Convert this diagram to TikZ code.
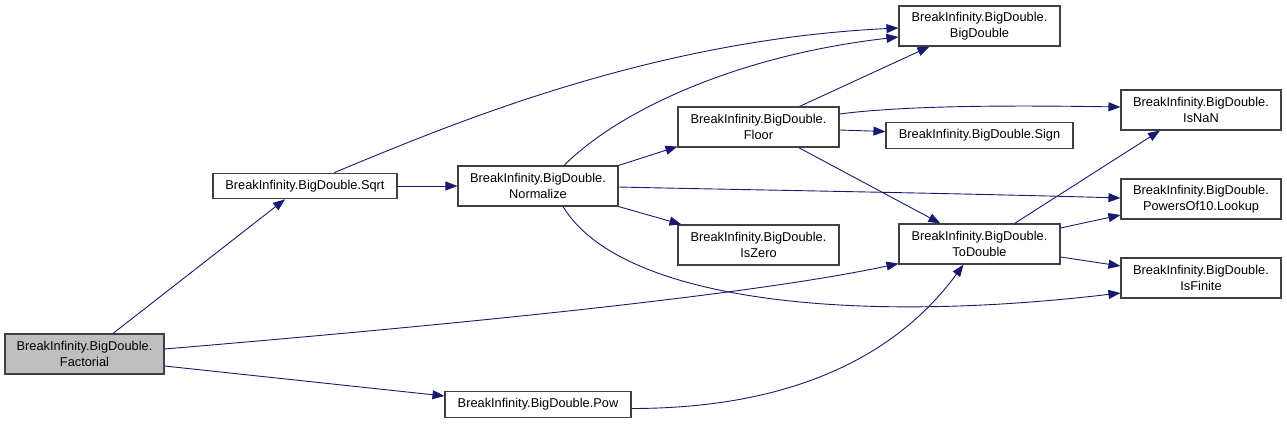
\documentclass[tikz,border=0pt]{standalone}
\usepackage{fontspec}
\setmainfont{Liberation Sans}
\usetikzlibrary{arrows.meta,calc}
\definecolor{edgecol}{HTML}{191970}
\definecolor{boxline}{HTML}{404040}
\definecolor{rootfill}{HTML}{BFBFBF}
\begin{document}
\begin{tikzpicture}[x=1pt,y=-1pt,
  box/.style={draw=boxline, line width=1.1pt, fill=white, inner sep=0pt, align=center,
    font=\fontsize{12.8}{15.5}\selectfont, minimum width=160pt, minimum height=40pt},
  flat/.style={minimum height=25.5pt},
  e/.style={draw=edgecol, line width=0.9pt, -{Triangle[length=12pt,width=9pt]}, fill=none}
]
\useasboundingbox (0,0) rectangle (1287,423);

\node[box, fill=rootfill, minimum width=159pt] (fact) at (84.5,354) {BreakInfinity.BigDouble.\\Factorial};
\node[box, flat, minimum width=184pt] (sqrt) at (305,186) {BreakInfinity.BigDouble.Sqrt};
\node[box] (norm) at (538,186) {BreakInfinity.BigDouble.\\Normalize};
\node[box, minimum width=161pt] (floor) at (758.5,127) {BreakInfinity.BigDouble.\\Floor};
\node[box, minimum width=161pt] (iszero) at (758.5,245) {BreakInfinity.BigDouble.\\IsZero};
\node[box, minimum width=161pt] (bigd) at (979.5,26) {BreakInfinity.BigDouble.\\BigDouble};
\node[box] (isnan) at (1201,110) {BreakInfinity.BigDouble.\\IsNaN};
\node[box, flat, minimum width=187pt] (sign) at (979.5,135.5) {BreakInfinity.BigDouble.Sign};
\node[box] (lookup) at (1201,199) {BreakInfinity.BigDouble.\\PowersOf10.Lookup};
\node[box, minimum width=161pt] (todouble) at (979.5,244) {BreakInfinity.BigDouble.\\ToDouble};
\node[box] (isfinite) at (1201,278) {BreakInfinity.BigDouble.\\IsFinite};
\node[box, flat, minimum width=186pt] (pow) at (538,404.5) {BreakInfinity.BigDouble.Pow};

% Factorial
\draw[e] ($(fact.north)+(28.5,0)$) -- ($(sqrt.south)+(-20,0)$);
\draw[e] ($(fact.east)+(0,-5)$) .. controls +(285,-24) and +(-149,32) .. ($(todouble.south west)+(0,-1)$);
\draw[e] ($(fact.east)+(0,12)$) -- ($(pow.west)+(0,-8.5)$);
% Sqrt
\draw[e] ($(sqrt.north)+(29,0)$) .. controls +(116,-48) and +(-249,12) .. ($(bigd.west)+(0,2)$);
\draw[e] (sqrt.east) -- (norm.west);
% Normalize
\draw[e] ($(norm.north)+(26,0)$) .. controls +(56,-56) and +(-159,18) .. ($(bigd.west)+(0,11)$);
\draw[e] (norm.north east) -- ($(floor.south west)+(0,-1)$);
\draw[e] ($(norm.east)+(0,1)$) .. controls +(82,2) and +(-171,-5) .. ($(lookup.west)+(0,-1)$);
\draw[e] (norm.south east) -- ($(iszero.north west)+(4,0)$);
\draw[e] ($(norm.south)+(25,0)$) .. controls +(57,94) and +(-271,32) .. ($(isfinite.west)+(0,15)$);
% Floor
\draw[e] ($(floor.north)+(41,0)$) -- ($(bigd.south west)+(31,0)$);
\draw[e] ($(floor.east)+(0,-13)$) .. controls +(61,-8) and +(-121,-2) .. ($(isnan.west)+(0,-3)$);
\draw[e] ($(floor.east)+(0,3)$) -- ($(sign.west)+(0,-4)$);
\draw[e] ($(floor.south)+(40,0)$) -- ($(todouble.north west)+(42,0)$);
% ToDouble
\draw[e] ($(todouble.north)+(35,0)$) -- ($(isnan.south)+(-41,0)$);
\draw[e] ($(todouble.east)+(0,-16)$) -- ($(lookup.west)+(0,16)$);
\draw[e] ($(todouble.east)+(0,13)$) -- ($(isfinite.west)+(0,-12)$);
% Pow
\draw[e] ($(pow.east)+(0,4)$) .. controls +(169,0) and +(-63,86) .. ($(todouble.south)+(-16,0)$);
\end{tikzpicture}
\end{document}
